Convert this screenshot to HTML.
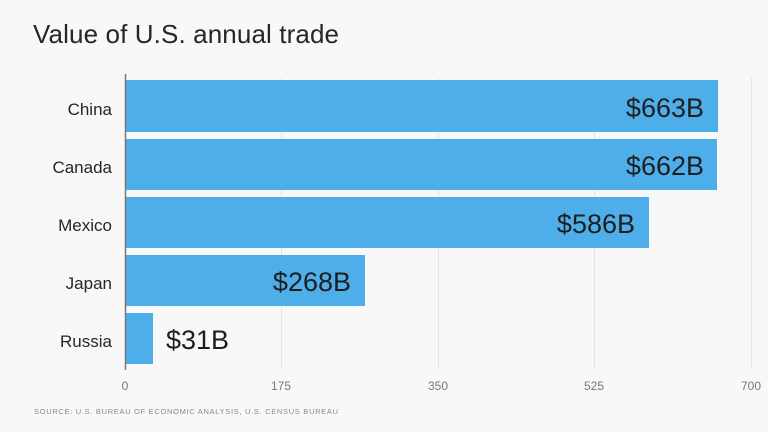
<!DOCTYPE html>
<html><head><meta charset="utf-8"><style>
html,body{margin:0;padding:0;background:#f8f8f8;}
svg{display:block;}
text{font-family:"Liberation Sans",sans-serif;}
</style></head><body>
<svg width="768" height="432" viewBox="0 0 768 432">
<rect width="768" height="432" fill="#f8f8f8"/>
<text x="33" y="43" font-size="26" fill="#262626" textLength="306">Value of U.S. annual trade</text>
<g stroke="#e2e4e8" stroke-width="1">
<line x1="281.5" y1="78" x2="281.5" y2="368"/>
<line x1="438.5" y1="78" x2="438.5" y2="368"/>
<line x1="594.5" y1="78" x2="594.5" y2="368"/>
<line x1="751.5" y1="78" x2="751.5" y2="368"/>
</g>
<g fill="#4eaeea">
<rect x="125" y="80" width="593" height="52"/>
<rect x="125" y="139" width="592" height="51"/>
<rect x="125" y="197" width="524" height="51"/>
<rect x="125" y="255" width="240" height="51"/>
<rect x="125" y="313" width="28" height="51"/>
</g>
<line x1="125.5" y1="74" x2="125.5" y2="370" stroke="#777" stroke-width="1.5"/>
<g font-size="17" fill="#262626" text-anchor="end">
<text x="112" y="115">China</text>
<text x="112" y="173">Canada</text>
<text x="112" y="231">Mexico</text>
<text x="112" y="289">Japan</text>
<text x="112" y="347">Russia</text>
</g>
<g font-size="27" fill="#1e1e1e">
<text x="704" y="117" text-anchor="end">$663B</text>
<text x="704" y="175" text-anchor="end">$662B</text>
<text x="635" y="233" text-anchor="end">$586B</text>
<text x="351" y="291" text-anchor="end">$268B</text>
<text x="166" y="349">$31B</text>
</g>
<g font-size="12" fill="#777" text-anchor="middle">
<text x="125" y="390">0</text>
<text x="281" y="390">175</text>
<text x="438" y="390">350</text>
<text x="594" y="390">525</text>
<text x="751" y="390">700</text>
</g>
<text x="34" y="414" font-size="7.5" fill="#888" textLength="304" font-family="Liberation Mono, monospace">SOURCE: U.S. BUREAU OF ECONOMIC ANALYSIS, U.S. CENSUS BUREAU</text>
</svg>
</body></html>
